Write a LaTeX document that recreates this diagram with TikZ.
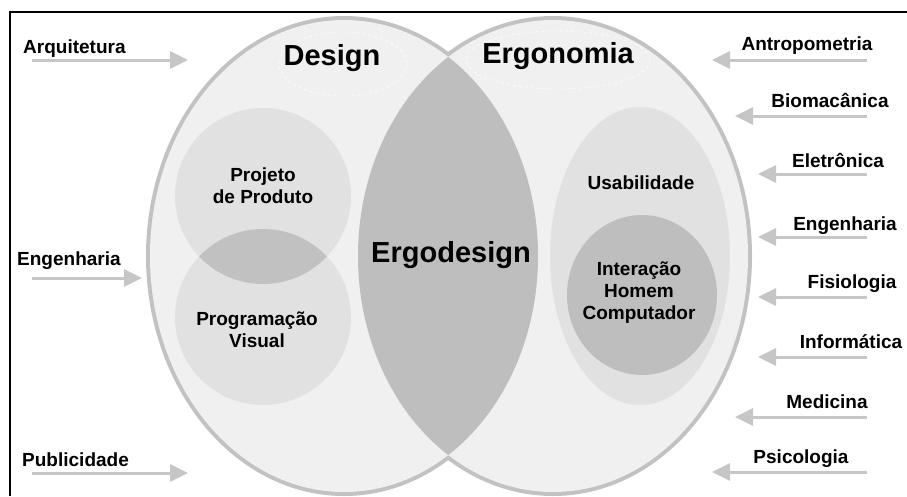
\documentclass[tikz,border=0pt]{standalone}
\usepackage{fontspec}
\setmainfont{Liberation Sans}
\usetikzlibrary{arrows.meta}

\definecolor{setfill}{HTML}{F0F0F0}
\definecolor{setline}{HTML}{C2C2C2}
\definecolor{subfill}{HTML}{E1E1E1}
\definecolor{corefill}{HTML}{BEBEBE}
\definecolor{feedgray}{HTML}{C6C6C6}

\tikzstyle{title} = [font=\fontsize{29}{32}\selectfont\bfseries, inner sep=0pt]
\tikzstyle{lbl} = [font=\fontsize{19}{22}\selectfont\bfseries, inner sep=0pt]
\tikzstyle{sub} = [lbl, align=center]
\tikzstyle{feed} = [draw=feedgray, line width=3pt, -{Triangle[length=18pt,width=17pt]}]
\tikzstyle{halo} = [draw=white!75!setfill, dashed, line width=0.8pt]

\begin{document}
\begin{tikzpicture}[x=1pt, y=-1pt]
\useasboundingbox (0,0) rectangle (907,496);

% frame
\draw[line width=2pt] (10,496) -- (10,12) -- (907,12);

% the two big sets, outer rim only
\draw[setline, line width=8pt] (344,256) ellipse [x radius=194, y radius=236];
\draw[setline, line width=8pt] (553,256) ellipse [x radius=195, y radius=236];
\fill[setfill] (344,256) ellipse [x radius=194, y radius=236];
\fill[setfill] (553,256) ellipse [x radius=195, y radius=236];
\draw[halo] (343,64) ellipse [x radius=64, y radius=32];
\draw[halo] (558,60) ellipse [x radius=92, y radius=29];

% design subsets
\fill[subfill] (263,196) circle [radius=88];
\fill[subfill] (263,317) circle [radius=88];
\begin{scope}
  \clip (263,196) circle [radius=88];
  \fill[corefill!95!white] (263,317) circle [radius=88];
\end{scope}

% ergonomia subsets
\fill[subfill] (640,256) ellipse [x radius=90, y radius=149];
\fill[corefill] (642,295) ellipse [x radius=75, y radius=80];

% ergodesign
\begin{scope}
  \clip (344,256) ellipse [x radius=194, y radius=236];
  \fill[corefill] (553,256) ellipse [x radius=195, y radius=236];
\end{scope}

\node[title, anchor=base] (design) at (332,65) {Design};
\node[title, anchor=base] (ergo) at (558,63) {Ergonomia};
\node[title, anchor=base] (ergodesign) at (451,262) {Ergodesign};

\node[sub] (projeto) at (263,186) {Projeto\\de Produto};
\node[sub] (progvis) at (257,330) {Programação\\Visual};
\node[lbl, anchor=base] (usab) at (641,189) {Usabilidade};
\node[sub] (ihc) at (639,293) {Interação\\Homem\\Computador};

% feeds into design
\node[lbl, anchor=base west] (arq) at (23,53) {Arquitetura};
\coordinate (arq-a) at (32,60);
\coordinate (arq-b) at (188,60);
\draw[feed] (arq-a) -- (arq-b);

\node[lbl, anchor=base west] (engl) at (17,265) {Engenharia};
\coordinate (engl-a) at (32,278);
\coordinate (engl-b) at (142,278);
\draw[feed] (engl-a) -- (engl-b);

\node[lbl, anchor=base west] (publ) at (22,466) {Publicidade};
\coordinate (publ-a) at (32,473);
\coordinate (publ-b) at (188,473);
\draw[feed] (publ-a) -- (publ-b);

% feeds into ergonomia
\node[lbl, anchor=base] (antro) at (807,50) {Antropometria};
\coordinate (antro-a) at (867,60);
\coordinate (antro-b) at (712,60);
\draw[feed] (antro-a) -- (antro-b);

\node[lbl, anchor=base] (biom) at (830,107) {Biomacânica};
\coordinate (biom-a) at (867,116);
\coordinate (biom-b) at (735,116);
\draw[feed] (biom-a) -- (biom-b);

\node[lbl, anchor=base] (eletr) at (838,167) {Eletrônica};
\coordinate (eletr-a) at (867,174);
\coordinate (eletr-b) at (758,174);
\draw[feed] (eletr-a) -- (eletr-b);

\node[lbl, anchor=base] (engr) at (845,230) {Engenharia};
\coordinate (engr-a) at (867,237);
\coordinate (engr-b) at (758,237);
\draw[feed] (engr-a) -- (engr-b);

\node[lbl, anchor=base] (fisio) at (852,288) {Fisiologia};
\coordinate (fisio-a) at (867,297);
\coordinate (fisio-b) at (758,297);
\draw[feed] (fisio-a) -- (fisio-b);

\node[lbl, anchor=base] (info) at (851,348) {Informática};
\coordinate (info-a) at (867,357);
\coordinate (info-b) at (758,357);
\draw[feed] (info-a) -- (info-b);

\node[lbl, anchor=base] (medic) at (827,408) {Medicina};
\coordinate (medic-a) at (867,417);
\coordinate (medic-b) at (735,417);
\draw[feed] (medic-a) -- (medic-b);

\node[lbl, anchor=base] (psico) at (801,463) {Psicologia};
\coordinate (psico-a) at (867,472);
\coordinate (psico-b) at (712,472);
\draw[feed] (psico-a) -- (psico-b);
\end{tikzpicture}
\end{document}
